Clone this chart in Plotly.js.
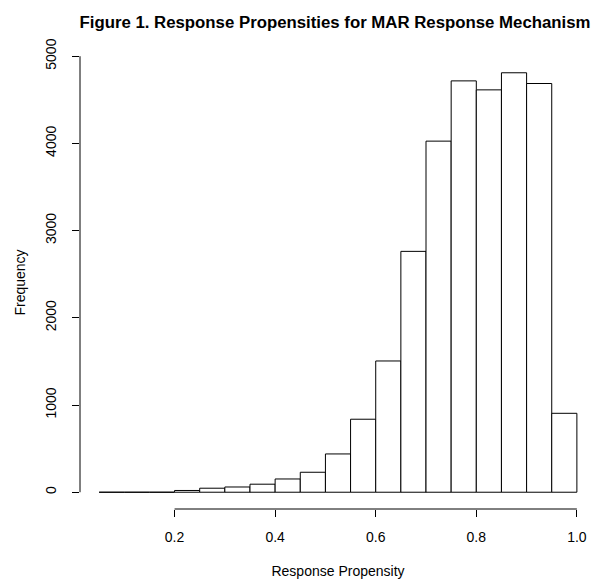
<!DOCTYPE html>
<html>
<head>
<meta charset="utf-8">
<script src="https://cdn.plot.ly/plotly-3.0.1.min.js"></script>
<style>html,body{margin:0;padding:0;background:#fff;}#chart{width:599px;height:579px;}</style>
</head>
<body>
<div id="chart"></div>
<script>
// Histogram bin left edges (bin width 0.05)
const binEdges = [0.05,0.10,0.15,0.20,0.25,0.30,0.35,0.40,0.45,0.50,0.55,0.60,0.65,0.70,0.75,0.80,0.85,0.90,0.95];
const binWidth = 0.05;
// Frequencies per bin
const counts = [0,0,0,20,46,60,92,152,229,439,837,1505,2762,4026,4717,4614,4810,4687,905];
// Tick values / labels
const xTicks = [0.2,0.4,0.6,0.8,1.0];
const xTickLabels = ["0.2","0.4","0.6","0.8","1.0"];
const yTicks = [0,1000,2000,3000,4000,5000];
const yTickLabels = ["0","1000","2000","3000","4000","5000"];

const font = "Liberation Sans, Arial, sans-serif";
const mids = binEdges.map(e => e + binWidth/2);

const trace = {
  type: 'bar',
  x: mids,
  y: counts,
  width: binEdges.map(() => binWidth),
  marker: {color: '#ffffff', line: {color: '#000000', width: 1}},
  hoverinfo: 'x+y'
};

const layout = {
  width: 599, height: 579,
  margin: {l: 80, r: 3, t: 56, b: 70},
  paper_bgcolor: '#fff', plot_bgcolor: '#fff',
  showlegend: false,
  font: {family: font, size: 14, color: '#000'},
  title: {text: '<b>Figure 1. Response Propensities for MAR Response Mechanism</b>',
          font: {family: font, size: 16.8, color: '#000'}, x: 335/599, xref: 'container', xanchor: 'center',
          y: 0.962, yref: 'container', yanchor: 'middle'},
  xaxis: {
    range: [0.012, 1.038], showgrid: false, zeroline: false, showline: false,
    tickmode: 'array', tickvals: xTicks, ticktext: xTickLabels,
    ticks: 'outside', ticklen: 7, tickwidth: 1, tickcolor: '#000',
    ticklabelstandoff: 8,
    title: {text: 'Response Propensity', font: {family: font, size: 14}, standoff: 23}
  },
  yaxis: {
    range: [-192.4, 5002.4], showgrid: false, zeroline: false, showline: false,
    tickmode: 'array', tickvals: yTicks, ticktext: yTickLabels, tickangle: -90,
    ticks: 'outside', ticklen: 7, tickwidth: 1, tickcolor: '#000',
    ticklabelstandoff: 10,
    title: {text: 'Frequency', font: {family: font, size: 14}, standoff: 14}
  },
  shapes: [
    {type: 'line', xref: 'paper', x0: 0, x1: 0, yref: 'y', y0: yTicks[0], y1: yTicks[yTicks.length-1], line: {color: '#000', width: 1}},
    {type: 'line', xref: 'x', x0: xTicks[0], x1: xTicks[xTicks.length-1], yref: 'paper', y0: 0, y1: 0, line: {color: '#000', width: 1}}
  ]
};

Plotly.newPlot('chart', [trace], layout, {staticPlot: true, displayModeBar: false});
</script>
</body>
</html>
